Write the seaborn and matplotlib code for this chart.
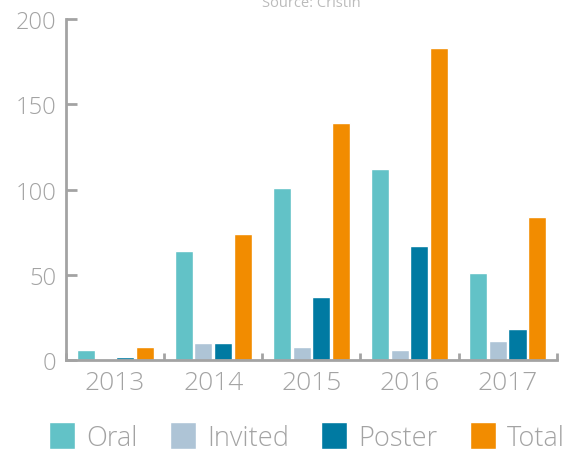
"""
Publications per year by type (Cristin)
"""
import pandas as pd
import matplotlib.pyplot as plt
import seaborn as sns

years = ['2013', '2014', '2015', '2016', '2017']
oral = [6, 64, 101, 112, 51]
invited = [0, 10, 8, 6, 11]
poster = [2, 10, 37, 67, 18]
total = [8, 74, 139, 183, 84]

series = ['Oral', 'Invited', 'Poster', 'Total']
colors = ['#62c2c7', '#aec4d6', '#007aa2', '#f28c00']

df = pd.DataFrame({'year': years, 'Oral': oral, 'Invited': invited,
                   'Poster': poster, 'Total': total})
long_df = df.melt(id_vars='year', var_name='type', value_name='count')

sns.set_style('white')
plt.rcParams['font.family'] = ['Open Sans', 'DejaVu Sans']
plt.rcParams['font.weight'] = 'light'
grey = '#a3a3a3'

fig = plt.figure(figsize=(5.74, 4.56), dpi=100)
ax = fig.add_axes([0.115, 0.208, 0.855, 0.748])

sns.barplot(data=long_df, x='year', y='count', hue='type', hue_order=series,
            palette=dict(zip(series, colors)), width=0.8, gap=0.08,
            saturation=1, ax=ax)

ax.set_ylim(0, 200)
ax.set_xlim(-0.5, len(years) - 0.5)
ax.set_yticks([0, 50, 100, 150, 200])
ax.set_xlabel('')
ax.set_ylabel('')

sns.despine(ax=ax)
for side in ['left', 'bottom']:
    ax.spines[side].set_color(grey)
    ax.spines[side].set_linewidth(2)

ax.tick_params(axis='y', left=True, direction='in', length=8, width=2,
               color=grey, labelsize=17, labelcolor=grey, pad=7)
ax.tick_params(axis='x', which='major', length=0, labelsize=19,
               labelcolor=grey, pad=7)
ax.set_xticks([i - 0.5 for i in range(len(years) + 1)], minor=True)
ax.tick_params(axis='x', which='minor', bottom=True, direction='in',
               length=5, width=2, color=grey)

ax.set_title('Source: Cristin', fontsize=10.5, color='#bbbbbb', pad=9.5)

handles, labels = ax.get_legend_handles_labels()
ax.get_legend().remove()
leg = fig.legend(handles, labels, ncol=4, loc='center',
                 bbox_to_anchor=(0.535, 0.040), frameon=False, fontsize=19.5,
                 handlelength=0.96, handleheight=1.15, handletextpad=0.4,
                 columnspacing=1.2, borderaxespad=0)
for t in leg.get_texts():
    t.set_color(grey)

plt.savefig('out.png', dpi=100)
